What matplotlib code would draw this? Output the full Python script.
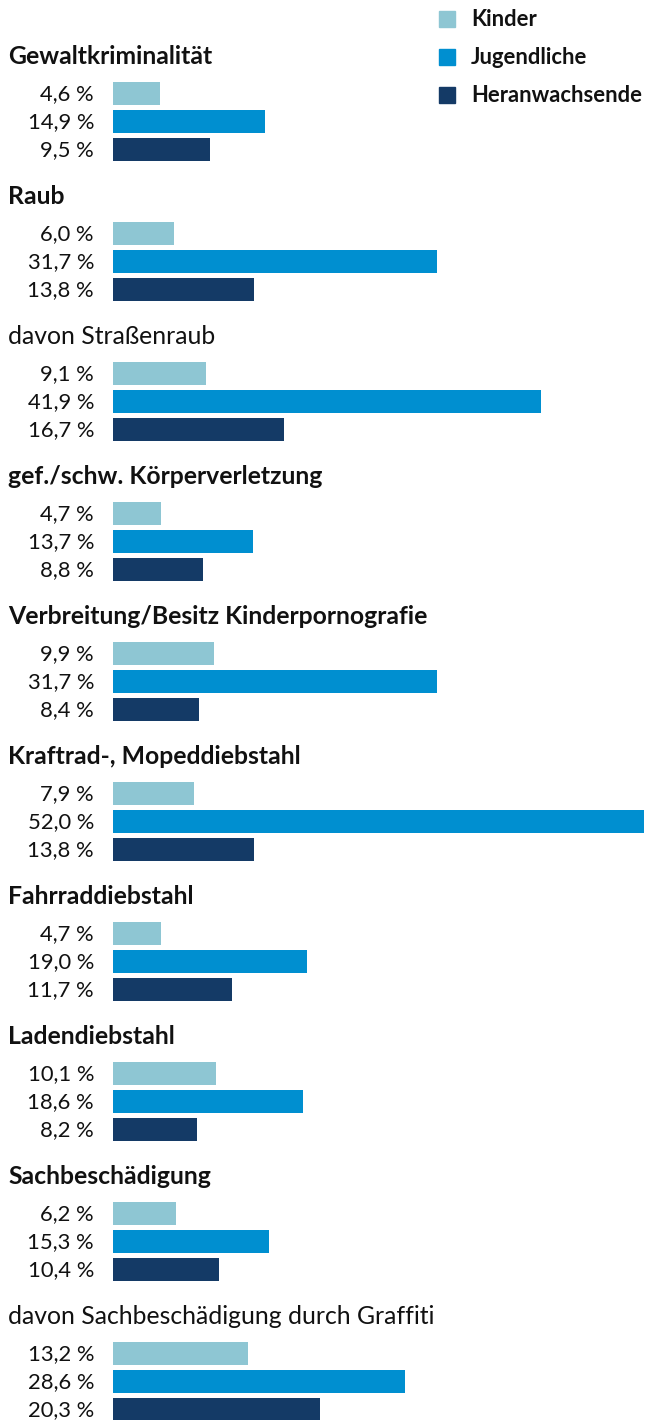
import numpy as np
import matplotlib.pyplot as plt

# data
kategorien = ["Gewaltkriminalität", "Raub", "davon Straßenraub",
              "gef./schw. Körperverletzung", "Verbreitung/Besitz Kinderpornografie",
              "Kraftrad-, Mopeddiebstahl", "Fahrraddiebstahl", "Ladendiebstahl",
              "Sachbeschädigung", "davon Sachbeschädigung durch Graffiti"]
fett = [True, True, False, True, True, True, True, True, True, False]
kinder = [4.6, 6.0, 9.1, 4.7, 9.9, 7.9, 4.7, 10.1, 6.2, 13.2]
jugendliche = [14.9, 31.7, 41.9, 13.7, 31.7, 52.0, 19.0, 18.6, 15.3, 28.6]
heranwachsende = [9.5, 13.8, 16.7, 8.8, 8.4, 13.8, 11.7, 8.2, 10.4, 20.3]
serien = ["Kinder", "Jugendliche", "Heranwachsende"]
farben = ["#8ec6d3", "#008fd0", "#143a66"]

W, H = 646, 1420
schrift = ["Lato", "DejaVu Sans"]

fig = plt.figure(figsize=(W / 100, H / 100), dpi=100)

# background axes in pixel coordinates for texts
bg = fig.add_axes([0, 0, 1, 1])
bg.set_xlim(0, W)
bg.set_ylim(H, 0)
bg.axis("off")

# bar axes
x0, x1 = 113, 644
ax = fig.add_axes([x0 / W, 0, (x1 - x0) / W, 1])
ax.set_xlim(0, 52.0)
ax.set_ylim(H, 0)
ax.axis("off")

werte = [kinder, jugendliche, heranwachsende]
for i, name in enumerate(kategorien):
    y_titel = 55 + 140 * i
    bg.text(8, y_titel, name, fontsize=17.8, family=schrift,
            fontweight="bold" if fett[i] else "normal",
            ha="left", va="center_baseline", color="#111111")
    for j in range(3):
        y = 93 + 140 * i + 28 * j
        v = werte[j][i]
        ax.barh(y, v, height=23, color=farben[j], left=0)
        bg.text(94, y - 1, f"{v:.1f} %".replace(".", ","), fontsize=15.8,
                family=schrift, ha="right", va="center_baseline", color="#111111")

# legend
for j, s in enumerate(serien):
    y = 19 + 38 * j
    bg.add_patch(plt.Rectangle((439, y - 8), 16, 16, color=farben[j]))
    bg.text(471, y - 1, s, fontsize=15.8, family=schrift, fontweight="bold",
            ha="left", va="center_baseline", color="#111111")

fig.savefig("out.png", dpi=100)
